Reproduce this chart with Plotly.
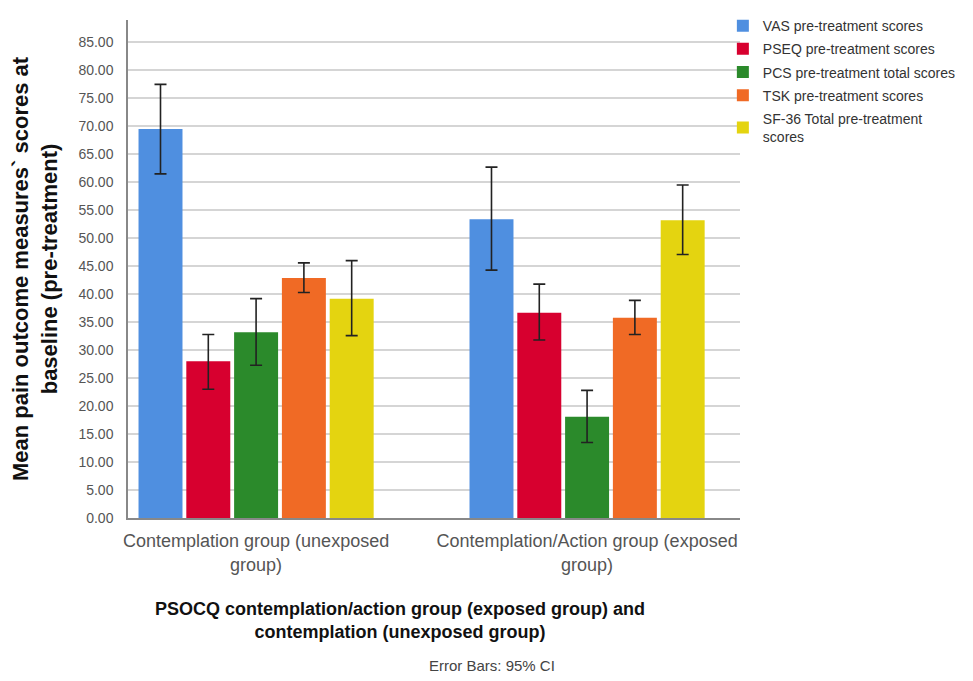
import plotly.graph_objects as go

categories = ["Contemplation group (unexposed<br>group)", "Contemplation/Action group (exposed<br>group)"]
series_names = ["VAS pre-treatment scores", "PSEQ pre-treatment scores", "PCS pre-treatment total scores",
                "TSK pre-treatment scores", "SF-36 Total pre-treatment<br>scores"]
vas_mean = [69.5, 53.4]
vas_low = [61.5, 44.3]
vas_high = [77.5, 62.7]
pseq_mean = [28.0, 36.7]
pseq_low = [23.0, 31.8]
pseq_high = [32.8, 41.8]
pcs_mean = [33.2, 18.1]
pcs_low = [27.3, 13.5]
pcs_high = [39.2, 22.8]
tsk_mean = [42.9, 35.8]
tsk_low = [40.3, 32.8]
tsk_high = [45.6, 38.9]
sf36_mean = [39.2, 53.2]
sf36_low = [32.6, 47.1]
sf36_high = [46.0, 59.5]
y_ticks = [i * 5 for i in range(18)]

colors = ["#4F8FE0", "#D7002F", "#2B8A2B", "#F06A25", "#E4D410"]
means = [vas_mean, pseq_mean, pcs_mean, tsk_mean, sf36_mean]
lows = [vas_low, pseq_low, pcs_low, tsk_low, sf36_low]
highs = [vas_high, pseq_high, pcs_high, tsk_high, sf36_high]

fig = go.Figure()
for i, (name, m, lo, hi, c) in enumerate(zip(series_names, means, lows, highs, colors)):
    fig.add_trace(go.Bar(
        x=[0, 1], y=m, name=name, legendgroup=f"g{i}",
        marker=dict(color=c, line=dict(width=0)),
        error_y=dict(type="data", symmetric=False,
                     array=[h - v for h, v in zip(hi, m)],
                     arrayminus=[v - l for v, l in zip(m, lo)],
                     color="#222222", thickness=1.6, width=6),
    ))

# page body has an 8px margin, so the figure is placed at (8, 8)
L, T, R, B = 120, 2, 732, 510.5
fig.update_layout(
    width=973, height=681,
    margin=dict(l=L, r=973 - R, t=T, b=681 - B),
    paper_bgcolor="white", plot_bgcolor="white",
    barmode="group", bargap=0.278, bargroupgap=0.08,
    font=dict(family="Liberation Sans, Arial, sans-serif", color="#444"),
    legend=dict(x=0.972, xanchor="left", y=1.02, yanchor="top",
                font=dict(size=14, color="#333"), tracegroupgap=2,
                itemwidth=30, bgcolor="rgba(0,0,0,0)"),
    xaxis=dict(range=[-0.387, 1.462], tickvals=[0, 1], ticktext=categories,
               tickfont=dict(size=18, color="#555"), showline=True, linecolor="#888",
               linewidth=1.5, ticks="", showgrid=False, ticklabelstandoff=6),
    yaxis=dict(range=[0, 89], tickvals=y_ticks, ticktext=[f"{v:.2f}" for v in y_ticks],
               tickfont=dict(size=14, color="#555"), showline=True, linecolor="#888",
               linewidth=1.5, ticks="", showgrid=True, gridcolor="#D5D5D5", gridwidth=1.8,
               zeroline=False, ticklabelstandoff=10,
               title=dict(text="<b>Mean pain outcome measures` scores at<br>baseline (pre-treatment)</b>",
                          font=dict(size=22, color="#111"), standoff=21)),
)
fig.add_annotation(text="<b>PSOCQ contemplation/action group (exposed group) and<br>contemplation (unexposed group)</b>",
                   xref="paper", yref="paper", x=(392 - L) / (R - L), y=-(615 - B) / (B - T),
                   showarrow=False, font=dict(size=18, color="#111"),
                   xanchor="center", yanchor="middle")
fig.add_annotation(text="Error Bars: 95% CI", xref="paper", yref="paper",
                   x=(484 - L) / (R - L), y=-(661 - B) / (B - T), showarrow=False,
                   font=dict(size=15, color="#444"), xanchor="center", yanchor="middle")

fig.write_html("out.html")
